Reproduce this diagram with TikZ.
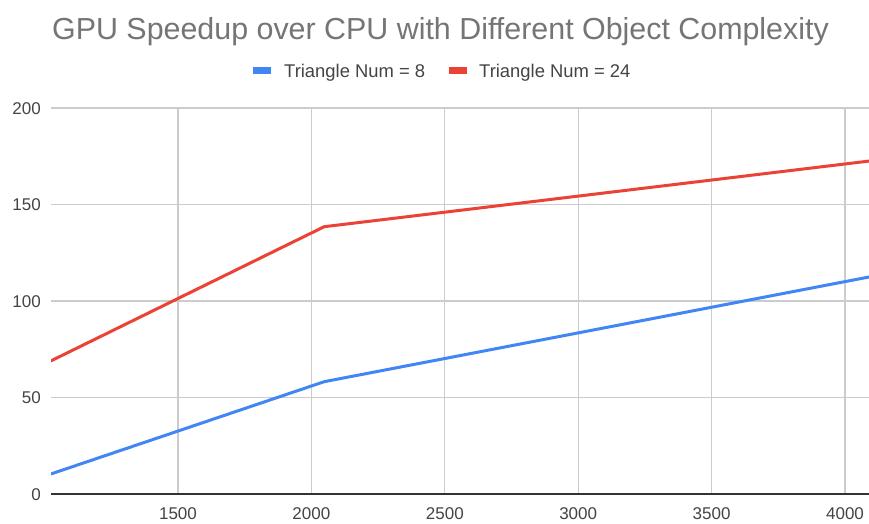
\documentclass[tikz,border=0pt]{standalone}
\usepackage{fontspec}
\setmainfont{Liberation Sans}
\definecolor{titlegray}{HTML}{757575}
\definecolor{labelgray}{HTML}{444444}
\definecolor{gridgray}{HTML}{CCCCCC}
\definecolor{axisgray}{HTML}{333333}
\definecolor{seriesblue}{HTML}{4285F4}
\definecolor{seriesred}{HTML}{EA4335}
\tikzset{
  gridline/.style={draw=gridgray, line width=1.2pt},
  axisline/.style={draw=axisgray, line width=1.4pt},
  series/.style={line width=3pt, line join=round, line cap=round},
  ticklabel/.style={text=labelgray, font=\fontsize{17}{20}\selectfont, inner sep=0pt},
  legendtext/.style={text=labelgray, font=\fontsize{18.4}{21}\selectfont, inner sep=0pt, anchor=base west},
  legendkey/.style={inner sep=0pt, minimum width=18pt, minimum height=6.5pt},
}
\begin{document}
\begin{tikzpicture}[x=1pt, y=-1pt]
  % canvas: 869 x 523, origin at top-left, y pointing down
  \fill[white] (0,0) rectangle (869,523);
  \useasboundingbox (0,0) rectangle (869,523);

  % title
  \node[text=titlegray, font=\fontsize{30.4}{34}\selectfont, inner sep=0pt, anchor=base west]
    (title) at (52,39) {GPU Speedup over CPU with Different Object Complexity};

  % legend
  \node[legendkey, fill=seriesblue] (keyA) at (262,70.5) {};
  \node[legendtext] (labA) at (284,77) {Triangle Num = 8};
  \node[legendkey, fill=seriesred] (keyB) at (458,70.5) {};
  \node[legendtext] (labB) at (479,77) {Triangle Num = 24};

  % plot area in data coordinates: x = matrix size, y = speedup
  \begin{scope}[shift={(51-1024*0.2668,494)}, x=0.2668pt, y=1.93pt]
    \clip (1024,-5) rectangle (4096,210);
    % horizontal grid
    \foreach \v in {50,100,150,200}
      \draw[gridline] (1024,\v) -- (4200,\v);
    % vertical grid
    \foreach \u in {1500,2000,...,4000}
      \draw[gridline] (\u,0) -- (\u,200);
    % baseline
    \draw[axisline] (1024,0) -- (4200,0);

    % series
    \coordinate (b1) at (1024,10.4);
    \coordinate (b2) at (2048,58.2);
    \coordinate (b3) at (4096,112.6);
    \coordinate (r1) at (1024,69.0);
    \coordinate (r2) at (2048,138.5);
    \coordinate (r3) at (4096,172.6);
    \draw[series, seriesblue] (b1) -- (b2) -- (b3);
    \draw[series, seriesred] (r1) -- (r2) -- (r3);
  \end{scope}

  % y tick labels
  \foreach \v/\n in {0/y0,50/y50,100/y100,150/y150,200/y200}
    \node[ticklabel, anchor=base east] (\n) at (41,{494-1.93*\v+6}) {\v};
  % x tick labels
  \foreach \u in {1500,2000,2500,3000,3500,4000}
    \node[ticklabel, anchor=base] (x\u) at ({51+(\u-1024)*0.2668},519) {\u};
\end{tikzpicture}
\end{document}
